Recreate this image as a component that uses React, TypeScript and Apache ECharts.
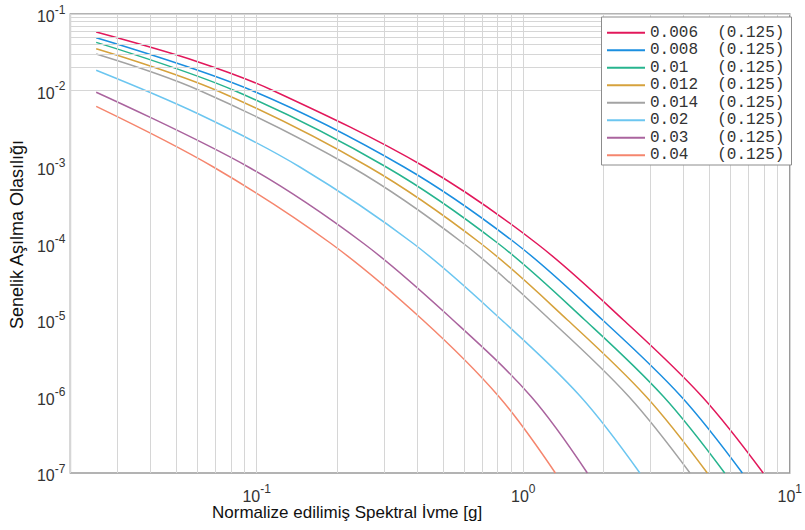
import React, { useEffect, useRef } from 'react';
import * as echarts from 'echarts';

// Normalized spectral acceleration [g] / annual exceedance probability
const names = ['0.006', '0.008', '0.01', '0.012', '0.014', '0.02', '0.03', '0.04'];
const suffix = '(0.125)';
const colors = ['#e2185b', '#1b8fe0', '#27b48e', '#d6a23c', '#a3a3a3', '#6cc6f0', '#aa649e', '#f5866e'];

const s006X = [0.025, 0.06, 0.115, 0.4275, 1.124, 2.377, 4.685, 7.95];
const s006Y = [0.058, 0.0238, 0.01, 1e-3, 1e-4, 1e-5, 1e-6, 1e-7];
const s008X = [0.025, 0.096, 0.357, 0.939, 1.985, 3.913, 6.64];
const s008Y = [0.049, 0.01, 1e-3, 1e-4, 1e-5, 1e-6, 1e-7];
const s010X = [0.025, 0.0824, 0.3063, 0.8056, 1.703, 3.357, 5.7];
const s010Y = [0.0426, 0.01, 1e-3, 1e-4, 1e-5, 1e-6, 1e-7];
const s012X = [0.025, 0.0709, 0.2637, 0.6935, 1.466, 2.89, 4.905];
const s012Y = [0.0352, 0.01, 1e-3, 1e-4, 1e-5, 1e-6, 1e-7];
const s014X = [0.025, 0.0611, 0.2271, 0.597, 1.263, 2.489, 4.224];
const s014Y = [0.03, 0.01, 1e-3, 1e-4, 1e-5, 1e-6, 1e-7];
const s020X = [0.025, 0.06, 0.1452, 0.387, 0.83, 1.64, 2.74];
const s020Y = [0.0184, 0.005, 1e-3, 1e-4, 1e-5, 1e-6, 1e-7];
const s030X = [0.025, 0.0931, 0.252, 0.545, 1.07, 1.74];
const s030Y = [0.0095, 1e-3, 1e-4, 1e-5, 1e-6, 1e-7];
const s040X = [0.025, 0.0688, 0.19, 0.42, 0.81, 1.32];
const s040Y = [0.0062, 1e-3, 1e-4, 1e-5, 1e-6, 1e-7];

const seriesX = [s006X, s008X, s010X, s012X, s014X, s020X, s030X, s040X];
const seriesY = [s006Y, s008Y, s010Y, s012Y, s014Y, s020Y, s030Y, s040Y];

const xAxisMin = 0.02;
const xAxisMax = 10;
const yAxisMin = 1e-7;
const yAxisMax = 0.1;

const SANS = 'Liberation Sans, Arial, sans-serif';
const MONO = 'Liberation Mono, Courier New, monospace';

function pad(name: string) {
  return name + ' '.repeat(7 - name.length) + suffix;
}

function powLabel(v: number) {
  const l = Math.log10(v);
  const e = Math.round(l);
  if (Math.abs(l - e) > 1e-6) return '';
  return '{b|10}{s|' + (e < 0 ? '-' + -e : '' + e) + '}';
}

const richLabel = {
  b: { fontSize: 16, lineHeight: 21, verticalAlign: 'bottom', fontFamily: SANS, color: '#333' },
  s: { fontSize: 12, lineHeight: 7, verticalAlign: 'top', fontFamily: SANS, color: '#333' },
};

function gridValues(lo: number, hi: number) {
  const out: number[] = [];
  for (let e = lo; e <= hi; e++) {
    for (let k = 1; k <= 9; k++) out.push(k * Math.pow(10, e));
  }
  return out;
}

export default function App() {
  const ref = useRef<HTMLDivElement>(null);
  useEffect(() => {
    const chart = echarts.init(ref.current!, null, { renderer: 'svg' });
    const xg = gridValues(-2, 0).filter((v) => v >= xAxisMin * 0.999).concat([10]);
    const yg = gridValues(-7, -2).concat([0.1]);
    const gridSeries = {
      type: 'line',
      name: 'grid',
      data: [],
      silent: true,
      z: 1,
      markLine: {
        silent: true,
        symbol: 'none',
        animation: false,
        label: { show: false },
        lineStyle: { color: '#d6d6d6', type: 'solid', width: 1 },
        data: [
          ...xg.map((v) => ({ xAxis: v })),
          ...yg.map((v) => ({ yAxis: v })),
        ],
      },
    };
    const curves = names.map((n, i) => ({
      type: 'line',
      name: pad(n),
      data: seriesX[i].map((x, j) => [x, seriesY[i][j]]),
      showSymbol: false,
      symbol: 'none',
      smooth: 0.35,
      z: 3,
      lineStyle: { color: colors[i], width: 1.5 },
      itemStyle: { color: colors[i] },
    }));
    chart.setOption({
      animation: false,
      backgroundColor: '#fff',
      grid: {
        left: 70,
        right: 8,
        top: 14,
        bottom: 57,
        show: true,
        borderColor: '#9a9a9a',
        borderWidth: 1.5,
      },
      xAxis: {
        type: 'log',
        min: xAxisMin,
        max: xAxisMax,
        splitNumber: 3,
        axisLine: { show: false },
        axisTick: { show: false },
        splitLine: { show: false },
        axisLabel: { formatter: powLabel, rich: richLabel, margin: 10, showMinLabel: true, showMaxLabel: true },
      },
      yAxis: {
        type: 'log',
        min: yAxisMin,
        max: yAxisMax,
        splitNumber: 6,
        axisLine: { show: false },
        axisTick: { show: false },
        splitLine: { show: false },
        name: 'Senelik Aşılma Olasılığı',
        nameLocation: 'middle',
        nameGap: 35,
        nameTextStyle: { fontSize: 18, fontFamily: SANS, color: '#111', padding: [0, 0, 0, 18] },
        axisLabel: { formatter: powLabel, rich: richLabel, margin: 5, showMinLabel: true, showMaxLabel: true },
      },
      legend: {
        orient: 'vertical',
        left: 601,
        top: 17,
        z: 20,
        padding: [7, 0, 4, 6],
        icon: 'rect',
        itemWidth: 38,
        itemHeight: 2,
        itemGap: 0,
        backgroundColor: 'transparent',
        borderWidth: 0,
        data: names.map((n) => pad(n)),
        textStyle: { fontFamily: MONO, fontSize: 16, color: '#333', lineHeight: 17.5 },
      },
      graphic: [
        {
          type: 'rect',
          z: 10,
          silent: true,
          shape: { x: 601.5, y: 17, width: 190, height: 148 },
          style: { fill: '#fff', stroke: '#8c8c8c', lineWidth: 1 },
        },
        {
          type: 'text',
          left: 212,
          top: 504,
          style: { text: 'Normalize edilimiş Spektral İvme [g]', font: '17px Liberation Sans', fill: '#111' },
        },
      ],
      series: [gridSeries, ...curves],
    });
    return () => chart.dispose();
  }, []);
  return (
    <div
      ref={ref}
      style={{ position: 'fixed', left: 0, top: 0, width: 805, height: 530, background: '#fff' }}
    />
  );
}
